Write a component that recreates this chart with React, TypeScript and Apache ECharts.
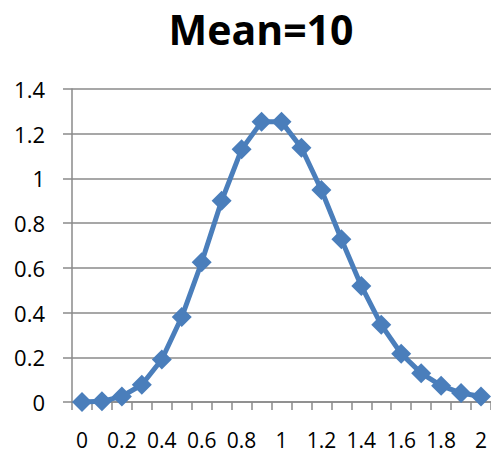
import React, { useEffect, useRef } from "react";
import * as echarts from "echarts";

const categories = ["0", "0.1", "0.2", "0.3", "0.4", "0.5", "0.6", "0.7", "0.8", "0.9", "1", "1.1", "1.2", "1.3", "1.4", "1.5", "1.6", "1.7", "1.8", "1.9", "2"];
const values = [0, 0.003, 0.025, 0.077, 0.19, 0.38, 0.625, 0.9, 1.13, 1.253, 1.253, 1.137, 0.948, 0.728, 0.519, 0.345, 0.216, 0.129, 0.073, 0.04, 0.025];
const yTicks = [0, 0.2, 0.4, 0.6, 0.8, 1, 1.2, 1.4];
const titleText = "Mean=10";

export default function App() {
  const ref = useRef<HTMLDivElement>(null);
  useEffect(() => {
    if (!ref.current) return;
    const chart = echarts.init(ref.current, null, { renderer: "svg" });
    const gray = "#8a8a8a";
    const font = "'Open Sans', 'Noto Sans', sans-serif";
    chart.setOption({
      animation: false,
      backgroundColor: "#ffffff",
      title: {
        text: titleText,
        top: 3,
        left: 256,
        textAlign: "center",
        textStyle: { fontFamily: font, fontWeight: "bold", fontSize: 41, color: "#000" },
      },
      grid: { left: 72, top: 89, bottom: 53, right: -7, containLabel: false },
      xAxis: {
        type: "category",
        data: categories,
        boundaryGap: true,
        axisLine: { lineStyle: { color: gray, width: 1.5 } },
        axisTick: { show: true, length: 8, inside: false, interval: 0, lineStyle: { color: gray, width: 1.5 } },
        axisLabel: { interval: 1, margin: 29, fontFamily: font, fontSize: 21, lineHeight: 18, color: "#000" },
        splitLine: { show: false },
      },
      yAxis: {
        type: "value",
        min: yTicks[0],
        max: yTicks[yTicks.length - 1],
        interval: 0.2,
        axisLine: { show: true, lineStyle: { color: gray, width: 1.5 } },
        axisTick: { show: true, length: 9, inside: false, lineStyle: { color: gray, width: 1.5 } },
        axisLabel: {
          margin: 27,
          fontFamily: font,
          fontSize: 22,
          color: "#000",
          formatter: (v: number) => String(Math.round(v * 10) / 10),
        },
        splitLine: { show: true, lineStyle: { color: gray, width: 1.5 } },
      },
      series: [
        {
          type: "line",
          data: values,
          symbol: "diamond",
          symbolSize: 20,
          showSymbol: true,
          showAllSymbol: true,
          lineStyle: { color: "#4A7EBB", width: 5 },
          itemStyle: { color: "#4A7EBB" },
          clip: false,
        },
      ],
    });
    return () => chart.dispose();
  }, []);
  return <div ref={ref} style={{ width: 491, height: 455, position: "absolute", left: 0, top: 0 }} />;
}
